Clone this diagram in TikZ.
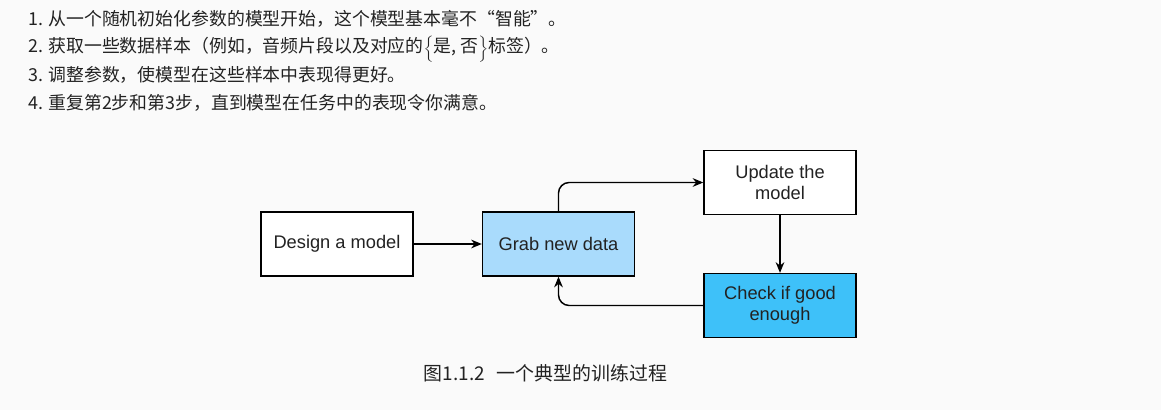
\documentclass[tikz,border=0pt]{standalone}
\usepackage{fontspec}
\newfontfamily\cjk{Noto Sans CJK SC}
\newfontfamily\boxfont{Liberation Sans}
\usetikzlibrary{arrows.meta}
\definecolor{Dpage}{RGB}{250,250,250}
\definecolor{Dlight}{RGB}{169,219,252}
\definecolor{Ddeep}{RGB}{62,193,249}
\definecolor{Dtext}{RGB}{34,34,34}
\newcommand{\Dbrace}[1]{\smash{\scalebox{1}[0.82]{$\biggl#1$}}}
\tikzset{%
    Dbox/.style={draw=black, line width=1pt, fill=#1, minimum width=114pt, minimum height=48pt,
        align=center, inner sep=2pt, font=\boxfont\fontsize{13.7}{16}\selectfont, text=Dtext},
    Dbox/.default={white},
    Dline/.style={line width=1.1pt, rounded corners=8pt, -{Stealth[length=8pt,width=6.5pt]}},
    Dtextline/.style={anchor=west, inner sep=0pt, text=Dtext, font=\cjk\fontsize{13.4}{16}\selectfont}
}
\begin{document}
\begin{tikzpicture}[x=0.75pt,y=-0.75pt]
        \fill[Dpage] (0,0) rectangle (1161,410);
        \useasboundingbox (0,0) rectangle (1161,410);
        \path
            (28,19) node [Dtextline] (Lone) {1. 从一个随机初始化参数的模型开始，这个模型基本毫不“智能”。}
            (28,47) node [Dtextline] (Ltwo) {2. 获取一些数据样本（例如，音频片段以及对应的\Dbrace\{是, 否\Dbrace\}标签）。}
            (28,75) node [Dtextline] (Lthree) {3. 调整参数，使模型在这些样本中表现得更好。}
            (28,103) node [Dtextline] (Lfour) {4. 重复第2步和第3步，直到模型在任务中的表现令你满意。};
        \path
            (337,244) node [Dbox] (Ndesign) {Design a model}
            (558.5,244) node [Dbox=Dlight] (Ngrab) {Grab new data}
            (780,182.5) node [Dbox] (Nupdate) {Update the\\model}
            (780,305.5) node [Dbox=Ddeep] (Ncheck) {Check if good\\enough};
        \draw[Dline] (Ndesign) -- (Ngrab);
        \draw[Dline] (Ngrab.north) |- (Nupdate.west);
        \draw[Dline] (Nupdate) -- (Ncheck);
        \draw[Dline] (Ncheck.west) -| (Ngrab.south);
        \path (545.5,373) node [Dtextline, anchor=center, font=\cjk\fontsize{14.2}{17}\selectfont] (Ncaption) {图1.1.2\hspace{0.63em}一个典型的训练过程};
    \end{tikzpicture}
\end{document}
